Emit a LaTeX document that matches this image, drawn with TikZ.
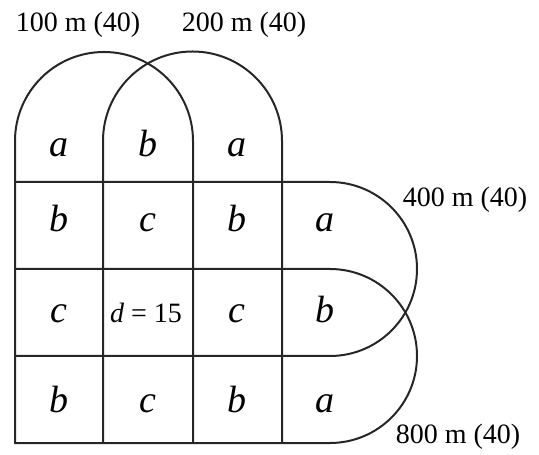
\documentclass[tikz,border=0pt]{standalone}
\usepackage{fontspec}
\setmainfont{Liberation Serif}
\begin{document}
\begin{tikzpicture}[
    x=0.5pt, y=0.5pt,
    line cap=round,
    line join=round,
    track/.style={draw=black!85, line width=1pt},
    cell/.style={anchor=base, font=\fontsize{19}{21}\selectfont\itshape},
    small/.style={anchor=base, font=\fontsize{14}{16}\selectfont},
    lab/.style={font=\fontsize{14}{16}\selectfont}
]
\useasboundingbox (0,0) rectangle (539,454);

  % vertical lanes with the two top bends
  \draw[track] (15,11) -- (15,313) arc[start angle=180, end angle=0, radius=89] -- (193,11);
  \draw[track] (103,11) -- (103,313) arc[start angle=180, end angle=0, radius=89.5] -- (282,11);

  % horizontal lanes with the two right bends
  \draw[track] (15,272) -- (330,272) arc[start angle=90, end angle=-90, radius=87] -- (15,98);
  \draw[track] (15,185) -- (330,185) arc[start angle=90, end angle=-90, radius=87] -- (15,11);

  % row 1
  \node[cell] (r1c1) at (59,297) {a};
  \node[cell] (r1c2) at (148,297) {b};
  \node[cell] (r1c3) at (237,297) {a};
  % row 2
  \node[cell] (r2c1) at (59,222) {b};
  \node[cell] (r2c2) at (148,222) {c};
  \node[cell] (r2c3) at (237,222) {b};
  \node[cell] (r2c4) at (325,222) {a};
  % row 3
  \node[cell] (r3c1) at (59,131) {c};
  \node[small] (r3c2) at (146,131) {\textit{d} = 15};
  \node[cell] (r3c3) at (237,131) {c};
  \node[cell] (r3c4) at (325,131) {b};
  % row 4
  \node[cell] (r4c1) at (59,41) {b};
  \node[cell] (r4c2) at (148,41) {c};
  \node[cell] (r4c3) at (237,41) {b};
  \node[cell] (r4c4) at (325,41) {a};

  \node[lab] (l100) at (78,429) {100 m (40)};
  \node[lab] (l200) at (244,429) {200 m (40)};
  \node[lab] (l400) at (465,254) {400 m (40)};
  \node[lab] (l800) at (458,17) {800 m (40)};
\end{tikzpicture}
\end{document}
